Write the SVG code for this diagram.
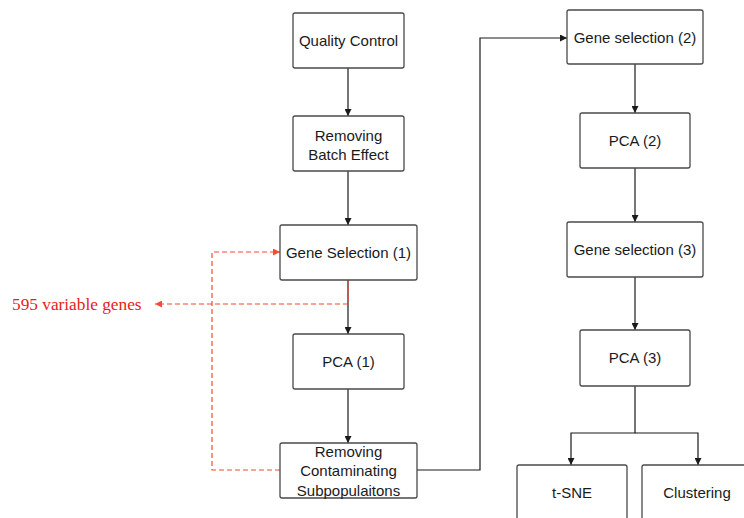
<svg xmlns="http://www.w3.org/2000/svg" width="744" height="518" viewBox="0 0 744 518">
<defs>
<style>
.box{fill:#fff;stroke:#4a4a4a;stroke-width:1.3}
.t{font-family:"Liberation Sans",Arial,sans-serif;font-size:15px;fill:#1a1a1a;text-anchor:middle}
.c{fill:none;stroke:#1a1a1a;stroke-width:1.2}
.r{fill:none;stroke:#f84a2f;stroke-width:1.2;stroke-dasharray:5 3}
</style>
<marker id="ah" viewBox="0 0 10 10" refX="10" refY="5" markerWidth="7" markerHeight="7" markerUnits="userSpaceOnUse" orient="auto"><path d="M0,0 L10,5 L0,10 z" fill="#1a1a1a"/></marker>
<marker id="ahr" viewBox="0 0 10 10" refX="10" refY="5" markerWidth="7" markerHeight="7" markerUnits="userSpaceOnUse" orient="auto"><path d="M0,0 L10,5 L0,10 z" fill="#f84a2f"/></marker>
</defs>
<rect width="744" height="518" fill="#fff"/>
<g id="connectors">
<path class="c" d="M348,68 V116" marker-end="url(#ah)"/>
<path class="c" d="M348,171 V225" marker-end="url(#ah)"/>
<path class="c" d="M348,280 V334" marker-end="url(#ah)"/>
<path class="c" d="M348,389 V443" marker-end="url(#ah)"/>
<path class="c" d="M417,470 H480 V38 H567" marker-end="url(#ah)"/>
<path class="c" d="M635,64 V113" marker-end="url(#ah)"/>
<path class="c" d="M635,168 V222" marker-end="url(#ah)"/>
<path class="c" d="M635,277 V330" marker-end="url(#ah)"/>
<path class="c" d="M635,386 V433 H571 V465" marker-end="url(#ah)"/>
<path class="c" d="M635,433 H698 V465" marker-end="url(#ah)"/>
<path class="r" d="M348,280 V304 H155" marker-end="url(#ahr)"/>
<path class="r" d="M280,470 H212 V252 H280" marker-end="url(#ahr)"/>
</g>
<g id="label-595">
<text x="12" y="310" font-family="'Liberation Serif','Times New Roman',serif" font-size="17.3" fill="#e8201a">595 variable genes</text>
</g>
<g id="quality-control">
<rect class="box" x="293" y="13" width="111" height="55" rx="2"/>
<text class="t" x="348.5" y="46">Quality Control</text>
</g>
<g id="removing-batch-effect">
<rect class="box" x="293" y="116" width="111" height="55" rx="2"/>
<text class="t" x="348.5" y="141">Removing</text>
<text class="t" x="348.5" y="160">Batch Effect</text>
</g>
<g id="gene-selection-1">
<rect class="box" x="280" y="225" width="137" height="55" rx="2"/>
<text class="t" x="348.5" y="258">Gene Selection (1)</text>
</g>
<g id="pca-1">
<rect class="box" x="293" y="334" width="111" height="55" rx="2"/>
<text class="t" x="348.5" y="367">PCA (1)</text>
</g>
<g id="removing-contaminating">
<rect class="box" x="280" y="443" width="137" height="55" rx="2"/>
<text class="t" x="348.5" y="457">Removing</text>
<text class="t" x="348.5" y="476">Contaminating</text>
<text class="t" x="348.5" y="496">Subpopulaitons</text>
</g>
<g id="gene-selection-2">
<rect class="box" x="567" y="10" width="136" height="54" rx="2"/>
<text class="t" x="635" y="43">Gene selection (2)</text>
</g>
<g id="pca-2">
<rect class="box" x="580" y="113" width="110" height="55" rx="2"/>
<text class="t" x="635" y="146">PCA (2)</text>
</g>
<g id="gene-selection-3">
<rect class="box" x="567" y="222" width="136" height="55" rx="2"/>
<text class="t" x="635" y="255">Gene selection (3)</text>
</g>
<g id="pca-3">
<rect class="box" x="580" y="330" width="110" height="56" rx="2"/>
<text class="t" x="635" y="363">PCA (3)</text>
</g>
<g id="t-sne">
<rect class="box" x="517" y="465" width="110" height="70" rx="2"/>
<text class="t" x="572" y="498">t-SNE</text>
</g>
<g id="clustering">
<rect class="box" x="642" y="465" width="112" height="70" rx="2"/>
<text class="t" x="697" y="498">Clustering</text>
</g>
</svg>
